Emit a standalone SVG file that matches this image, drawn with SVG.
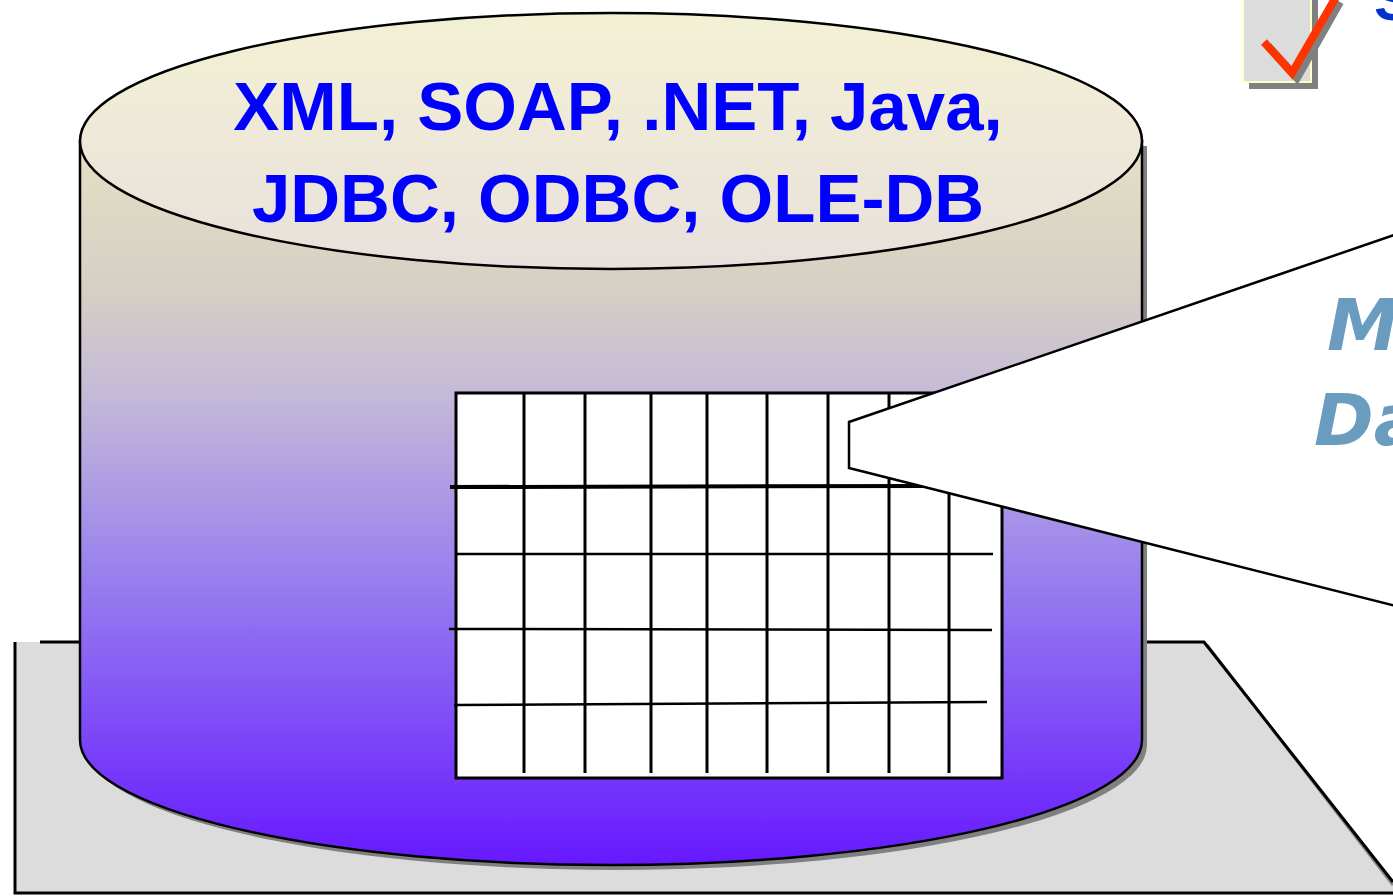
<svg xmlns="http://www.w3.org/2000/svg" width="1393" height="896" viewBox="0 0 1393 896">
<defs>
<linearGradient id="body" x1="0" y1="141" x2="0" y2="865" gradientUnits="userSpaceOnUse">
<stop offset="0" stop-color="#E4E0C4"/>
<stop offset="0.2" stop-color="#D6D0C4"/>
<stop offset="0.35" stop-color="#C4BAD8"/>
<stop offset="0.6" stop-color="#9880EE"/>
<stop offset="1" stop-color="#6618FF"/>
</linearGradient>
<linearGradient id="top" x1="0" y1="13" x2="0" y2="270" gradientUnits="userSpaceOnUse">
<stop offset="0" stop-color="#F3F1D4"/>
<stop offset="1" stop-color="#E8E0DC"/>
</linearGradient>
<style>
.ln{stroke:#000;fill:none}
.v{stroke:#000;stroke-width:3}
.h{stroke:#000;stroke-width:2.5}
.t1{font-family:"Liberation Sans",Arial,sans-serif;font-weight:bold;font-size:69px;fill:#0000FF;text-anchor:middle}
.t2{font-family:"DejaVu Sans",Verdana,sans-serif;font-weight:bold;font-style:italic;font-size:72px;fill:#6A9CC0}
</style>
</defs>
<rect width="1393" height="896" fill="#fff"/>
<g id="platform">
<polygon points="15,642 1204,642 1393,882 1393,894 15,894" fill="#DCDCDC"/>
<line x1="1207" y1="645" x2="1393" y2="885" stroke="#888" stroke-width="3"/>
<path class="ln" stroke-width="3" d="M15,642 V893 H1393 M40,642 H1204 L1393,882"/>
</g>
<g id="cylinder">
<path d="M85,146 L85,745 A531,125 0 0 0 1147,745 L1147,146 Z" fill="#808080"/>
<path d="M80,141 L80,740 A531,125 0 0 0 1142,740 L1142,141 Z" fill="url(#body)" stroke="#000" stroke-width="2.5"/>
<ellipse cx="611" cy="141" rx="531" ry="128" fill="url(#top)" stroke="#000" stroke-width="2.5"/>
<text class="t1" x="618" y="130">XML, SOAP, .NET, Java,</text>
<text class="t1" x="618" y="222">JDBC, ODBC, OLE-DB</text>
</g>
<g id="grid">
<rect x="456" y="393" width="546" height="385" fill="#fff" stroke="#000" stroke-width="3"/>
<g class="v">
<line x1="524" y1="393" x2="524" y2="773"/>
<line x1="585" y1="393" x2="585" y2="773"/>
<line x1="651" y1="393" x2="651" y2="773"/>
<line x1="707" y1="393" x2="707" y2="773"/>
<line x1="767" y1="393" x2="767" y2="773"/>
<line x1="828" y1="393" x2="828" y2="773"/>
<line x1="889" y1="393" x2="889" y2="773"/>
<line x1="949" y1="393" x2="949" y2="773"/>
</g>
<line x1="450" y1="487" x2="930" y2="486" stroke="#000" stroke-width="4"/>
<line class="h" x1="456" y1="554" x2="993" y2="554"/>
<line class="h" x1="449" y1="629" x2="992" y2="630"/>
<line class="h" x1="454" y1="705" x2="987" y2="702"/>
</g>
<g id="callout">
<polygon points="1400,233 849,422 849,468 1400,607" fill="#fff" stroke="#000" stroke-width="2.5"/>
<text class="t2" x="1327" y="350">M</text>
<text class="t2" x="1314" y="445">Da</text>
</g>
<g id="checkbox">
<rect x="1249" y="0" width="69" height="89" fill="#808080"/>
<rect x="1243" y="-2" width="68" height="84" fill="#DCDCDC" stroke="#FFFFC8" stroke-width="2"/>
<polyline points="1268,46 1297,78 1340,2" fill="none" stroke="#808080" stroke-width="8"/>
<polyline points="1264,42 1292,73 1336,-3" fill="none" stroke="#FF3300" stroke-width="8"/>
<text x="1374" y="20" font-family="Liberation Sans,Arial,sans-serif" font-weight="bold" font-size="60" fill="#0033CC">S</text>
</g>
</svg>
